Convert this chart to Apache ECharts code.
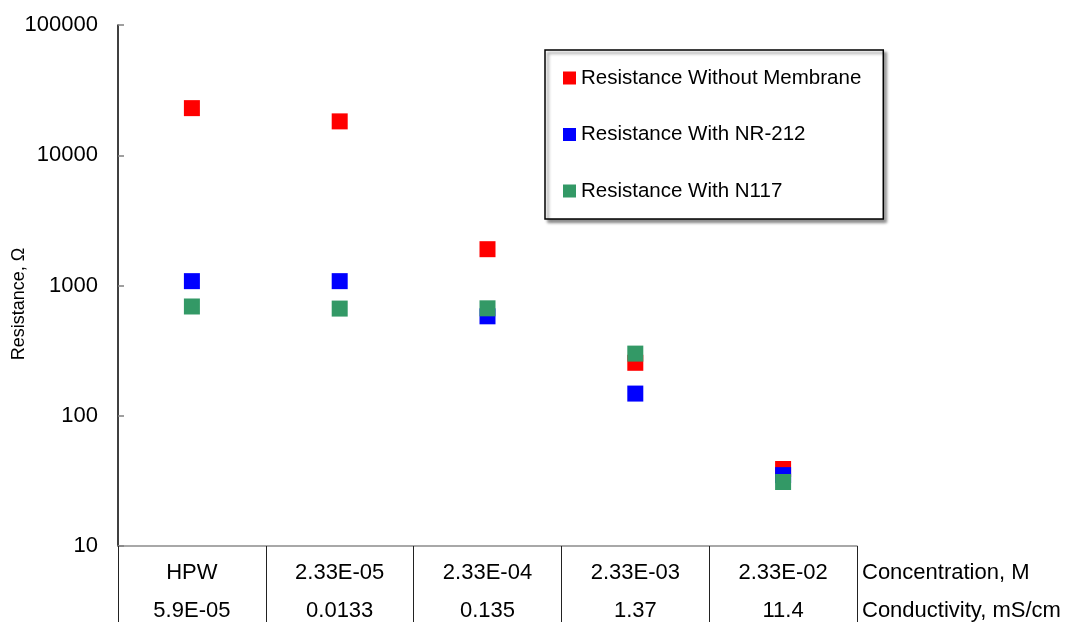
<!DOCTYPE html>
<html>
<head>
<meta charset="utf-8">
<script src="https://cdn.jsdelivr.net/npm/echarts@6/dist/echarts.min.js"></script>
<style>
  html, body { margin: 0; padding: 0; background: #fff; }
  #chart { width: 1070px; height: 622px; }
</style>
</head>
<body>
<div id="chart"></div>
<script>
// Electrolyte concentration (M) and matching conductivity (mS/cm)
const concentrations = ['HPW', '2.33E-05', '2.33E-04', '2.33E-03', '2.33E-02'];
const conductivities = ['5.9E-05', '0.0133', '0.135', '1.37', '11.4'];

// Measured resistance, ohm
const withoutMembrane = [23000, 18200, 1900, 255, 39];
const withNR212 = [1080, 1080, 580, 148, 35];
const withN117 = [690, 665, 668, 300, 31];

const FONT = "'Liberation Sans', Arial, sans-serif";

const chart = echarts.init(document.getElementById('chart'), null, { renderer: 'canvas' });

const series = [
  { name: 'Resistance Without Membrane', data: withoutMembrane, color: '#ff0000' },
  { name: 'Resistance With NR-212', data: withNR212, color: '#0000ff' },
  { name: 'Resistance With N117', data: withN117, color: '#339966' }
].map(s => ({
  name: s.name,
  type: 'scatter',
  symbol: 'rect',
  symbolSize: 16,
  itemStyle: { color: s.color, opacity: 1 },
  data: s.data
}));

chart.setOption({
  animation: false,
  backgroundColor: '#ffffff',
  textStyle: { fontFamily: FONT },
  grid: { left: 118, right: 213, top: 25, bottom: 76, containLabel: false, outerBoundsMode: 'none' },
  legend: {
    orient: 'vertical',
    left: 545,
    top: 50,
    padding: [16, 22, 16, 18],
    itemGap: 32.5,
    itemWidth: 13,
    itemHeight: 13,
    icon: 'rect',
    backgroundColor: '#ffffff',
    borderColor: '#000000',
    borderWidth: 1.5,
    shadowColor: 'rgba(0,0,0,0.45)',
    shadowBlur: 3,
    shadowOffsetX: 3,
    shadowOffsetY: 3,
    textStyle: { fontFamily: FONT, fontSize: 20.5, color: '#000', lineHeight: 24 }
  },
  xAxis: {
    type: 'category',
    data: concentrations,
    boundaryGap: true,
    name: 'Concentration, M\nConductivity, mS/cm',
    nameLocation: 'end',
    nameGap: 5,
    nameMoveOverlap: false,
    nameTextStyle: {
      fontFamily: FONT, fontSize: 22, color: '#000',
      lineHeight: 38, align: 'left', verticalAlign: 'top', padding: [8, 0, 0, 0]
    },
    axisLine: { show: true, lineStyle: { color: '#8c8c8c', width: 1.5 } },
    axisTick: { show: true, inside: false, length: 80, alignWithLabel: false, lineStyle: { color: '#222', width: 1 } },
    axisLabel: {
      interval: 0,
      margin: 8,
      fontFamily: FONT,
      fontSize: 22,
      color: '#000',
      lineHeight: 38,
      formatter: (v, i) => v + '\n' + conductivities[i]
    },
    splitLine: { show: false }
  },
  yAxis: {
    type: 'log',
    logBase: 10,
    min: 10,
    max: 100000,
    name: 'Resistance, Ω',
    nameLocation: 'middle',
    nameRotate: 90,
    nameGap: 90,
    nameMoveOverlap: false,
    nameTextStyle: { fontFamily: FONT, fontSize: 18, color: '#000', padding: [0, 37, 0, 0] },
    axisLine: { show: true, lineStyle: { color: '#000', width: 1.5 } },
    axisTick: { show: true, inside: true, length: 6, lineStyle: { color: '#808080', width: 1.5 } },
    minorTick: { show: false },
    axisLabel: { fontFamily: FONT, fontSize: 22, color: '#000', margin: 20, formatter: v => String(Math.round(v)) },
    splitLine: { show: false }
  },
  series: series
});
</script>
</body>
</html>
